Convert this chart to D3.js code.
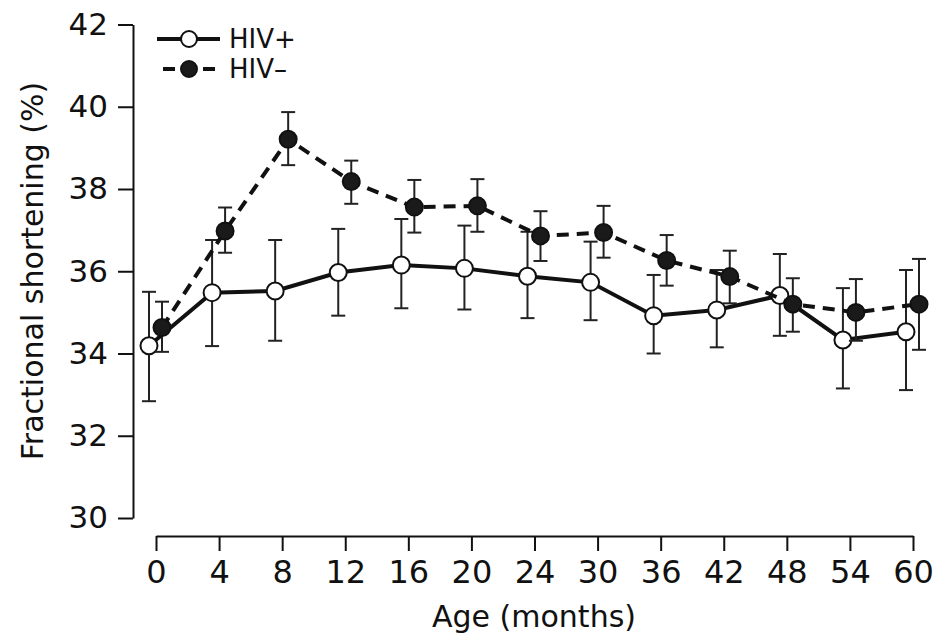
<!DOCTYPE html>
<html>
<head>
<meta charset="utf-8">
<script src="https://cdn.jsdelivr.net/npm/d3@7"></script>
<style>
  body { margin: 0; background: #fff; }
  svg { display: block; font-family: "DejaVu Sans", sans-serif; }
</style>
</head>
<body>
<div id="chart"></div>
<script>
// age categories (months)
var months = ["0","4","8","12","16","20","24","30","36","42","48","54","60"];
var yTicks = [30,32,34,36,38,40,42];

// HIV+ : mean and error bar ends
var hivPos   = [34.19,35.48,35.52,35.97,36.15,36.07,35.88,35.73,34.92,35.06,35.41,34.33,34.53];
var hivPosLo = [32.84,34.18,34.31,34.92,35.10,35.07,34.86,34.81,34.00,34.15,34.43,33.15,33.11];
var hivPosHi = [35.50,36.76,36.76,37.03,37.27,37.11,36.96,36.72,35.91,36.03,36.42,35.59,36.03];

// HIV- : mean and error bar ends
var hivNeg   = [34.63,36.98,39.21,38.18,37.56,37.59,36.86,36.94,36.26,35.87,35.20,35.00,35.20];
var hivNegLo = [34.04,36.45,38.58,37.64,36.94,36.96,36.25,36.33,35.65,35.22,34.53,34.31,34.09];
var hivNegHi = [35.26,37.55,39.87,38.69,38.22,38.24,37.46,37.59,36.88,36.50,35.83,35.81,36.30];

var width = 940, height = 640;
var svg = d3.select("#chart").append("svg")
  .attr("width", width)
  .attr("height", height);

var xScale = d3.scalePoint().domain(months).range([156, 913]);
var yScale = d3.scaleLinear().domain([30, 42]).range([518, 24.5]);

// y axis
var yAxis = d3.axisLeft(yScale)
  .tickValues(yTicks)
  .tickSize(15)
  .tickSizeOuter(0)
  .tickPadding(10);
var gy = svg.append("g")
  .attr("transform", "translate(133,0)")
  .call(yAxis);
gy.select(".domain").attr("stroke", "#111").attr("stroke-width", 2);
gy.selectAll(".tick line").attr("stroke", "#111").attr("stroke-width", 2);
gy.selectAll(".tick text")
  .attr("font-size", "31px")
  .attr("fill", "#111")
  .attr("font-family", "DejaVu Sans, sans-serif");

// x axis (separate line below the plot)
var xAxis = d3.axisBottom(xScale)
  .tickSize(15)
  .tickSizeOuter(0);
var gx = svg.append("g")
  .attr("transform", "translate(0,536)")
  .call(xAxis);
gx.select(".domain").attr("stroke", "#111").attr("stroke-width", 2);
gx.selectAll(".tick line").attr("stroke", "#111").attr("stroke-width", 2);
gx.selectAll(".tick text")
  .attr("font-size", "32px")
  .attr("fill", "#111")
  .attr("font-family", "DejaVu Sans, sans-serif")
  .attr("y", 47)
  .attr("dy", 0);

// axis titles
svg.append("text")
  .attr("x", 534)
  .attr("y", 627)
  .attr("text-anchor", "middle")
  .attr("font-size", "30px")
  .attr("fill", "#111")
  .text("Age (months)");

svg.append("text")
  .attr("transform", "translate(43,271) rotate(-90)")
  .attr("text-anchor", "middle")
  .attr("font-size", "30px")
  .attr("fill", "#111")
  .text("Fractional shortening (%)");

function drawSeries(mean, lo, hi, offset, dashed, filled) {
  var g = svg.append("g");
  var px = function(i) { return xScale(months[i]) + offset; };
  var idx = d3.range(months.length);

  // error bars
  g.selectAll(".eb").data(idx).enter().append("line")
    .attr("x1", px).attr("x2", px)
    .attr("y1", function(i){ return yScale(lo[i]); })
    .attr("y2", function(i){ return yScale(hi[i]); })
    .attr("stroke", "#222").attr("stroke-width", 2);
  g.selectAll(".capHi").data(idx).enter().append("line")
    .attr("x1", function(i){ return px(i) - 7; })
    .attr("x2", function(i){ return px(i) + 7; })
    .attr("y1", function(i){ return yScale(hi[i]); })
    .attr("y2", function(i){ return yScale(hi[i]); })
    .attr("stroke", "#222").attr("stroke-width", 2);
  g.selectAll(".capLo").data(idx).enter().append("line")
    .attr("x1", function(i){ return px(i) - 7; })
    .attr("x2", function(i){ return px(i) + 7; })
    .attr("y1", function(i){ return yScale(lo[i]); })
    .attr("y2", function(i){ return yScale(lo[i]); })
    .attr("stroke", "#222").attr("stroke-width", 2);

  var line = d3.line()
    .x(function(i){ return px(i); })
    .y(function(i){ return yScale(mean[i]); });
  g.append("path")
    .datum(idx)
    .attr("d", line)
    .attr("fill", "none")
    .attr("stroke", "#111")
    .attr("stroke-width", 4)
    .attr("stroke-dasharray", dashed ? "12,8" : null);

  g.selectAll("circle").data(idx).enter().append("circle")
    .attr("cx", px)
    .attr("cy", function(i){ return yScale(mean[i]); })
    .attr("r", 8.5)
    .attr("fill", filled ? "#1a1a1a" : "#fff")
    .attr("stroke", "#111")
    .attr("stroke-width", 2);
}

drawSeries(hivPos, hivPosLo, hivPosHi, -7, false, false);
drawSeries(hivNeg, hivNegLo, hivNegHi, 6, true, true);

// legend
var leg = svg.append("g");
leg.append("line")
  .attr("x1", 157).attr("x2", 220).attr("y1", 39).attr("y2", 39)
  .attr("stroke", "#111").attr("stroke-width", 4);
leg.append("circle")
  .attr("cx", 189).attr("cy", 39).attr("r", 8)
  .attr("fill", "#fff").attr("stroke", "#111").attr("stroke-width", 2);
leg.append("text")
  .attr("x", 229).attr("y", 48)
  .attr("font-size", "26px").attr("fill", "#111")
  .text("HIV+");

leg.append("line")
  .attr("x1", 163).attr("x2", 220).attr("y1", 69).attr("y2", 69)
  .attr("stroke", "#111").attr("stroke-width", 4)
  .attr("stroke-dasharray", "12,8");
leg.append("circle")
  .attr("cx", 189).attr("cy", 69).attr("r", 8)
  .attr("fill", "#1a1a1a").attr("stroke", "#111").attr("stroke-width", 2);
leg.append("text")
  .attr("x", 229).attr("y", 78)
  .attr("font-size", "26px").attr("fill", "#111")
  .text("HIV\u2013");
</script>
</body>
</html>
